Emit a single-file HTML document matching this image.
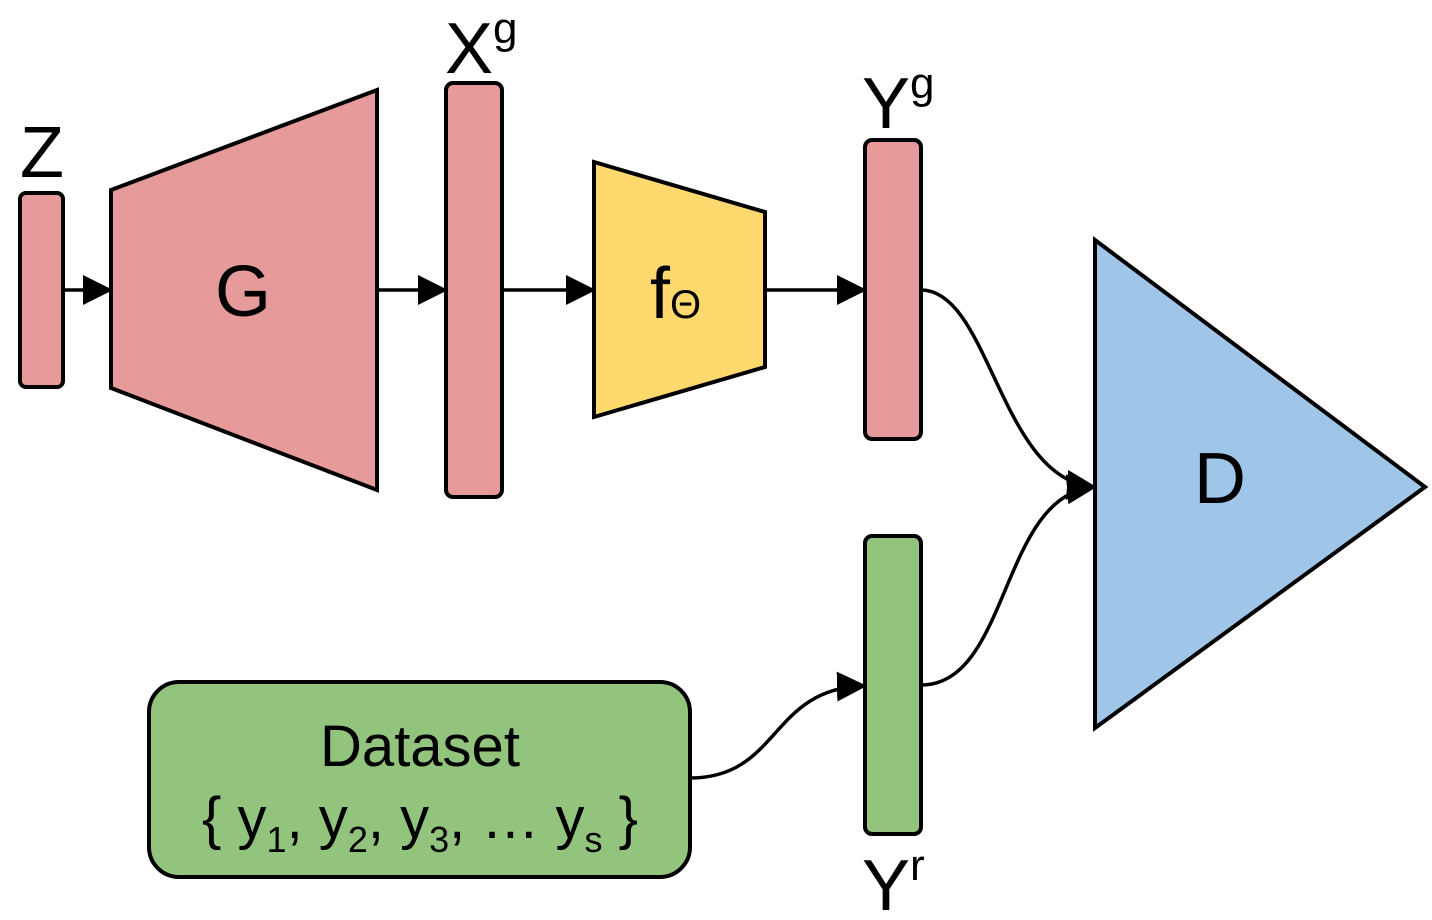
<!DOCTYPE html>
<html><head><style>body{margin:0;background:#fff}svg{display:block}text{font-family:"Liberation Sans",sans-serif;fill:#000}</style></head><body>
<svg width="1432" height="920" viewBox="0 0 1432 920" xmlns="http://www.w3.org/2000/svg">
<defs><marker id="a" markerWidth="10" markerHeight="10" refX="9" refY="5" orient="auto" markerUnits="userSpaceOnUse" viewBox="0 0 10 10"><path d="M0,0 L10,5 L0,10z"/></marker>
<marker id="b" viewBox="0 0 10 10" refX="9" refY="5" markerWidth="30" markerHeight="30" orient="auto" markerUnits="userSpaceOnUse"><path d="M0,0 L10,5 L0,10z"/></marker></defs>
<g stroke="#000" stroke-width="4" stroke-linejoin="round">
<rect x="20" y="193" width="43" height="194" rx="6" fill="#E69A9A"/>
<polygon points="111,190 377,90 377,490 111,388" fill="#E69A9A" stroke-linejoin="miter"/>
<rect x="446" y="83" width="56" height="414" rx="7" fill="#E69A9A"/>
<polygon points="594,162 765,212 765,367 594,417" fill="#FFD86E" stroke-linejoin="miter"/>
<rect x="865" y="140" width="56" height="299" rx="7" fill="#E69A9A"/>
<rect x="865" y="536" width="56" height="298" rx="7" fill="#93C47D"/>
<polygon points="1095,240 1425,487 1095,728" fill="#9FC5E8" stroke-linejoin="miter"/>
<rect x="149" y="682" width="541" height="195" rx="30" fill="#93C47D"/>
</g>
<g stroke="#000" stroke-width="3.5" fill="none">
<path d="M63,290 H110" marker-end="url(#b)"/>
<path d="M377,290 H445" marker-end="url(#b)"/>
<path d="M502,290 H593" marker-end="url(#b)"/>
<path d="M765,290 H864" marker-end="url(#b)"/>
<path d="M921,290 C990,290 1000,480 1094,487" marker-end="url(#b)"/>
<path d="M921,685 C1010,685 1000,495 1094,487" marker-end="url(#b)"/>
<path d="M690,778 C780,778 770,688 864,686" marker-end="url(#b)"/>
</g>
<text x="42" y="177" font-size="72" text-anchor="middle">Z</text>
<text x="445" y="73" font-size="72">X<tspan font-size="44" dy="-30">g</tspan></text>
<text x="862" y="128" font-size="72">Y<tspan font-size="44" dy="-30">g</tspan></text>
<text x="862" y="910" font-size="72">Y<tspan font-size="44" dy="-30">r</tspan></text>
<text x="243" y="316" font-size="72" text-anchor="middle">G</text>
<text x="650" y="318" font-size="72">f<tspan font-size="40">Θ</tspan></text>
<text x="1220" y="503" font-size="72" text-anchor="middle">D</text>
<text x="420" y="766" font-size="58" text-anchor="middle">Dataset</text>
<text x="420" y="838" font-size="58" text-anchor="middle">{ y<tspan font-size="36" dy="14">1</tspan><tspan dy="-14">, y</tspan><tspan font-size="36" dy="14">2</tspan><tspan dy="-14">, y</tspan><tspan font-size="36" dy="14">3</tspan><tspan dy="-14">, … y</tspan><tspan font-size="36" dy="14">s</tspan><tspan dy="-14"> }</tspan></text>
</svg>
</body></html>
